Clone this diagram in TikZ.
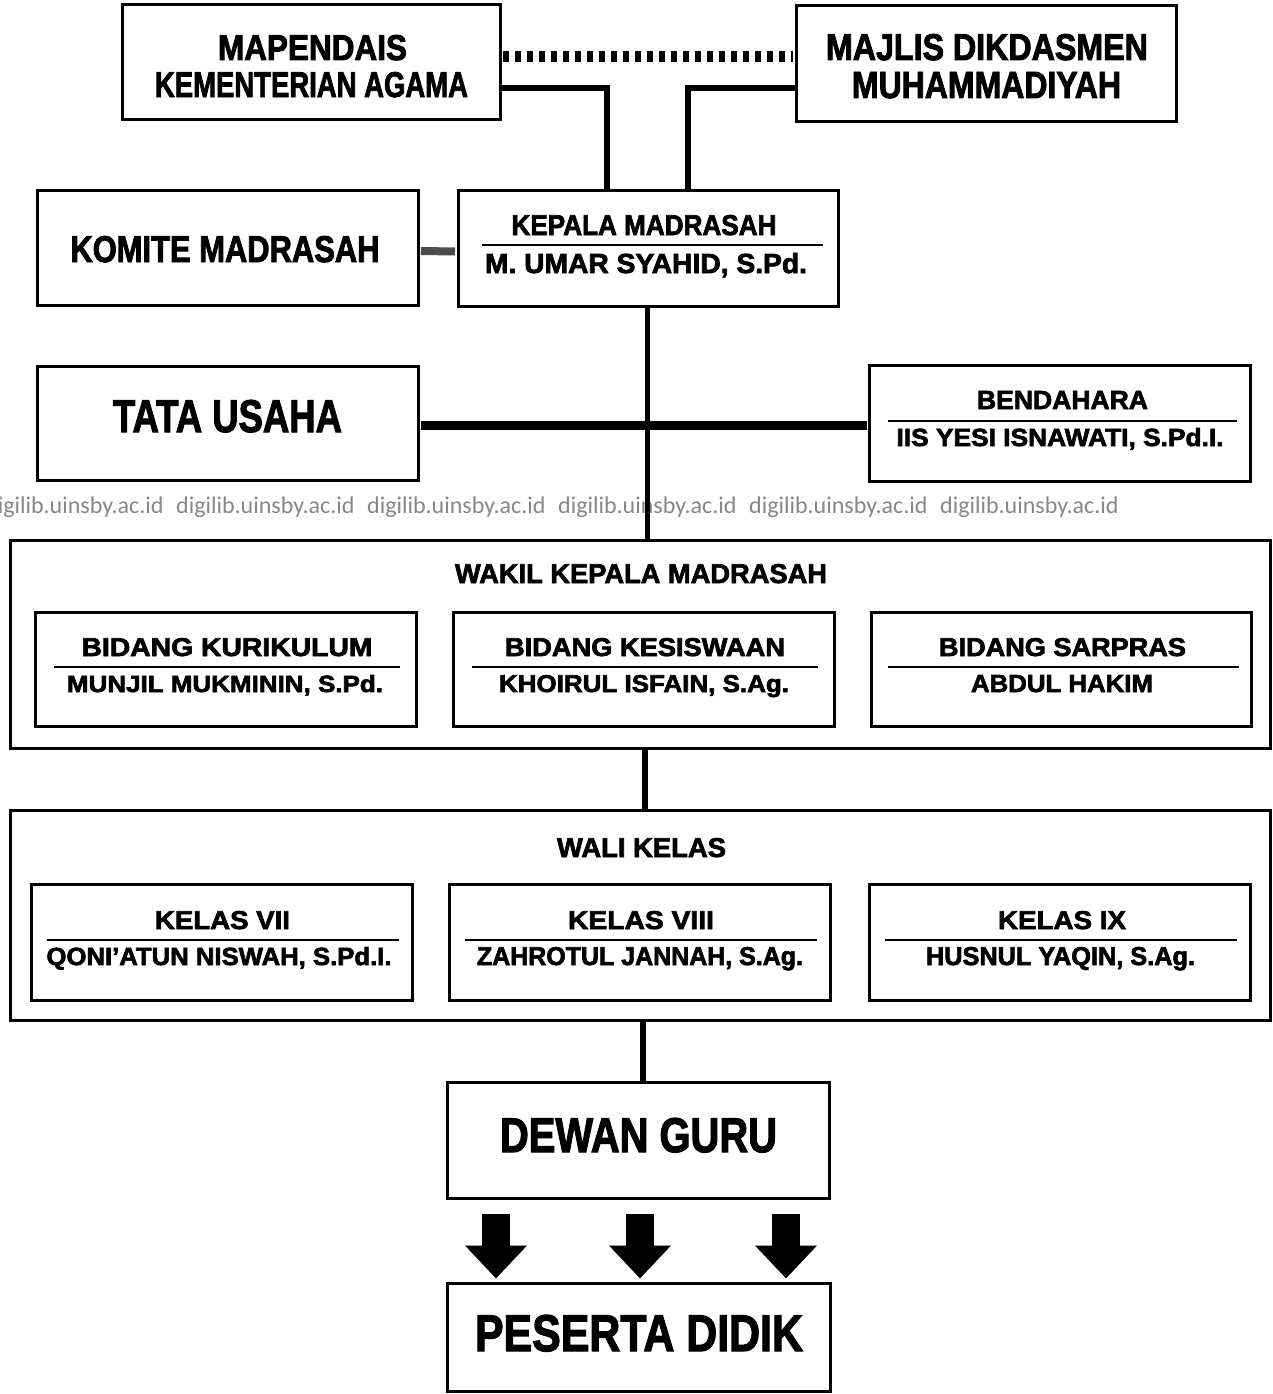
\documentclass[tikz,border=0pt]{standalone}
\usepackage{fontspec}
\usepackage{graphicx}
\usetikzlibrary{calc,arrows.meta}
\newfontfamily\hf{Liberation Sans}[BoldFeatures={FakeBold=2.5}]
\newfontfamily\wmf{Carlito}
\definecolor{wmgray}{RGB}{135,135,135}
\newcommand\tx[3]{\resizebox{#1pt}{#2pt}{\hf\bfseries #3}}
\begin{document}
\begin{tikzpicture}[x=1pt,y=-1pt,
  box/.style={draw, line width=3pt, rectangle, inner sep=0pt},
  txt/.style={inner sep=0pt, anchor=base},
  conn/.style={line width=6pt},
  rul/.style={line width=1.5pt},
  dotline/.style={line width=11pt, dash pattern=on 6pt off 6pt},
  bigarrow/.style={line width=28pt, -{Triangle[width=60pt,length=33pt]}},
  wm/.style={text=wmgray, font=\wmf\fontsize{24}{24}\selectfont, inner sep=0pt, anchor=base west}]
\useasboundingbox (0,0) rectangle (1272,1394);
\fill[white] (0,0) rectangle (1272,1394);

% watermark
\foreach \i in {0,...,5}{
  \node[wm] (wm\i) at (-15+191*\i,513) {digilib.uinsby.ac.id};
}

% top boxes
\node[box, minimum width=378pt, minimum height=115pt] (mapendais) at (311,62.5) {};
\node[txt] (mapT1) at (312.5,60) {\tx{189}{25}{MAPENDAIS}};
\node[txt] (mapT2) at (311.5,97) {\tx{313}{25}{KEMENTERIAN AGAMA}};

\node[box, minimum width=380pt, minimum height=116pt] (majlis) at (986,64) {};
\node[txt] (majT1) at (987,60) {\tx{322}{26}{MAJLIS DIKDASMEN}};
\node[txt] (majT2) at (986.5,98) {\tx{269}{26}{MUHAMMADIYAH}};

% second row
\node[box, minimum width=381pt, minimum height=115pt] (komite) at (227.5,247.5) {};
\node[txt] (komT) at (225,262) {\tx{309}{26}{KOMITE MADRASAH}};

\node[box, minimum width=380pt, minimum height=116pt] (kepala) at (648,248) {};
\node[txt] (kepT1) at (644,235) {\tx{265}{20}{KEPALA MADRASAH}};
\node[txt] (kepT2) at (646,273) {\tx{322}{20}{M. UMAR SYAHID, S.Pd.}};
\draw[rul] ($(kepala.west)+(25,-3)$) -- ($(kepala.east)+(-17,-3)$);

% third row
\node[box, minimum width=381pt, minimum height=114pt] (tata) at (227.5,423) {};
\node[txt] (tataT) at (227.5,432) {\tx{229}{32}{TATA USAHA}};

\node[box, minimum width=381pt, minimum height=116pt] (bendahara) at (1060,423.5) {};
\node[txt] (benT1) at (1062.5,409) {\tx{171}{18}{BENDAHARA}};
\node[txt] (benT2) at (1060,446) {\tx{327}{18}{IIS YESI ISNAWATI, S.Pd.I.}};
\draw[rul] ($(bendahara.west)+(20,-2.5)$) -- ($(bendahara.east)+(-15,-2.5)$);

% wakil
\node[box, minimum width=1260pt, minimum height=208pt] (wakil) at (640,644) {};
\node[txt] (wakT) at (641,583) {\tx{372}{19}{WAKIL KEPALA MADRASAH}};

\node[box, minimum width=381pt, minimum height=114pt] (kur) at (225.5,669) {};
\node[txt] (kurT1) at (227,656) {\tx{291}{18}{BIDANG KURIKULUM}};
\node[txt] (kurT2) at (225,692) {\tx{316}{17}{MUNJIL MUKMININ, S.Pd.}};
\draw[rul] ($(kur.west)+(20,-2)$) -- ($(kur.east)+(-18,-2)$);

\node[box, minimum width=381pt, minimum height=114pt] (kes) at (643.5,669) {};
\node[txt] (kesT1) at (645,656) {\tx{280}{18}{BIDANG KESISWAAN}};
\node[txt] (kesT2) at (644,692) {\tx{290}{17}{KHOIRUL ISFAIN, S.Ag.}};
\draw[rul] ($(kes.west)+(20,-2)$) -- ($(kes.east)+(-18,-2)$);

\node[box, minimum width=380pt, minimum height=114pt] (sar) at (1061,669) {};
\node[txt] (sarT1) at (1062.5,656) {\tx{247}{18}{BIDANG SARPRAS}};
\node[txt] (sarT2) at (1062,692) {\tx{182}{17}{ABDUL HAKIM}};
\draw[rul] ($(sar.west)+(18,-2)$) -- ($(sar.east)+(-14,-2)$);

% wali kelas
\node[box, minimum width=1260pt, minimum height=210pt] (wali) at (640,915) {};
\node[txt] (walT) at (641.5,857) {\tx{169}{19}{WALI KELAS}};

\node[box, minimum width=381pt, minimum height=116pt] (k7) at (221.5,942) {};
\node[txt] (k7T1) at (222.5,929) {\tx{135}{18}{KELAS VII}};
\node[txt] (k7T2) at (219,965) {\tx{345}{18}{QONI’ATUN NISWAH, S.Pd.I.}};
\draw[rul] ($(k7.west)+(17,-2)$) -- ($(k7.east)+(-15,-2)$);

\node[box, minimum width=381pt, minimum height=116pt] (k8) at (639.5,942) {};
\node[txt] (k8T1) at (641,929) {\tx{146}{18}{KELAS VIII}};
\node[txt] (k8T2) at (640,965) {\tx{326}{18}{ZAHROTUL JANNAH, S.Ag.}};
\draw[rul] ($(k8.west)+(17,-2)$) -- ($(k8.east)+(-15,-2)$);

\node[box, minimum width=381pt, minimum height=116pt] (k9) at (1059.5,942) {};
\node[txt] (k9T1) at (1062,929) {\tx{128}{18}{KELAS IX}};
\node[txt] (k9T2) at (1060.5,965) {\tx{269}{18}{HUSNUL YAQIN, S.Ag.}};
\draw[rul] ($(k9.west)+(17,-2)$) -- ($(k9.east)+(-15,-2)$);

% bottom
\node[box, minimum width=382pt, minimum height=116pt] (dewan) at (638,1140) {};
\node[txt] (dewT) at (638.5,1152) {\tx{277}{34}{DEWAN GURU}};

\node[box, minimum width=383pt, minimum height=108pt] (peserta) at (638.5,1337) {};
\node[txt] (pesT) at (639,1351) {\tx{328}{36}{PESERTA DIDIK}};

% connectors
\draw[dotline] ($(mapendais.east)+(1.5,-5.5)$) -- ($(majlis.west)+(-1.5,-7)$);
\draw[conn] ($(mapendais.east)+(0,25.5)$) -| ($(kepala.north)+(-41,0)$);
\draw[conn] ($(majlis.west)+(0,24)$) -| ($(kepala.north)+(40,0)$);
\draw[line width=8pt, black!70] ($(komite.east)+(1.5,3.5)$) -- ($(kepala.west)+(-1.5,3.5)$);
\draw[line width=5pt] ($(kepala.south)+(-1,0)$) -- ($(wakil.north)+(7,0)$);
\draw[line width=9pt] ($(tata.east)+(1.5,2)$) -- ($(bendahara.west)+(-1.5,1.5)$);
\draw[conn] ($(wakil.south)+(5,0)$) -- ($(wali.north)+(5,0)$);
\draw[conn] ($(wali.south)+(3,0)$) -- ($(dewan.north)+(5,0)$);

\foreach \dx/\n in {-142/a,2/b,148/c}{
  \draw[bigarrow, shorten <=14pt, shorten >=3pt] ($(dewan.south)+(\dx,0)$) -- ($(peserta.north)+(\dx-0.5,0)$);
}
\end{tikzpicture}
\end{document}
